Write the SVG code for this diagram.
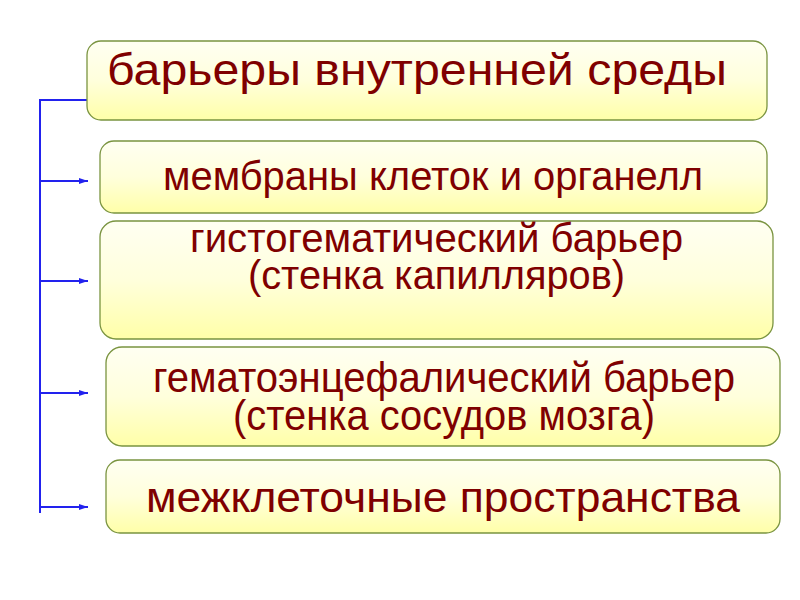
<svg xmlns="http://www.w3.org/2000/svg" width="800" height="600" viewBox="0 0 800 600">
<defs>
<linearGradient id="g" x1="0" y1="0" x2="0" y2="1">
<stop offset="0" stop-color="#fffff2"/>
<stop offset="0.5" stop-color="#ffffdc"/>
<stop offset="1" stop-color="#ffffa8"/>
</linearGradient>
<marker id="ah" markerWidth="10" markerHeight="8" refX="9" refY="4" orient="auto" markerUnits="userSpaceOnUse">
<path d="M0,1 L9,4 L0,7 Z" fill="#2222ee"/>
</marker>
<style>
.box{fill:url(#g);stroke:#7a9440;stroke-width:1.3}
.t{font-family:"Liberation Sans",Arial,sans-serif;fill:#7f0000}
.c{stroke:#2222ee;stroke-width:2;fill:none}
</style>
</defs>
<rect width="800" height="600" fill="#ffffff"/>
<g id="connectors">
<path class="c" d="M87,100 H40 V513"/>
<path class="c" d="M40,181 H88" marker-end="url(#ah)"/>
<path class="c" d="M40,281 H88" marker-end="url(#ah)"/>
<path class="c" d="M40,393 H88" marker-end="url(#ah)"/>
<path class="c" d="M40,507 H88" marker-end="url(#ah)"/>
</g>
<g id="n0">
<rect class="box" x="87" y="41" width="680" height="79" rx="14"/>
<text class="t" x="107" y="85" font-size="45" textLength="620" lengthAdjust="spacingAndGlyphs">барьеры внутренней среды</text>
</g>
<g id="n1">
<rect class="box" x="100" y="141" width="667" height="72" rx="14"/>
<text class="t" x="163" y="190" font-size="41" textLength="540" lengthAdjust="spacingAndGlyphs">мембраны клеток и органелл</text>
</g>
<g id="n2">
<rect class="box" x="100" y="221" width="673" height="118" rx="16"/>
<text class="t" font-size="41"><tspan x="190" y="252" textLength="493" lengthAdjust="spacingAndGlyphs">гистогематический барьер</tspan><tspan x="248" y="289" textLength="377" lengthAdjust="spacingAndGlyphs">(стенка капилляров)</tspan></text>
</g>
<g id="n3">
<rect class="box" x="106" y="347" width="674" height="99" rx="16"/>
<text class="t" font-size="42"><tspan x="153" y="392" textLength="582" lengthAdjust="spacingAndGlyphs">гематоэнцефалический барьер</tspan><tspan x="233" y="430" textLength="422" lengthAdjust="spacingAndGlyphs">(стенка сосудов мозга)</tspan></text>
</g>
<g id="n4">
<rect class="box" x="106" y="460" width="674" height="73" rx="14"/>
<text class="t" x="146" y="512" font-size="43" textLength="594" lengthAdjust="spacingAndGlyphs">межклеточные пространства</text>
</g>
</svg>
